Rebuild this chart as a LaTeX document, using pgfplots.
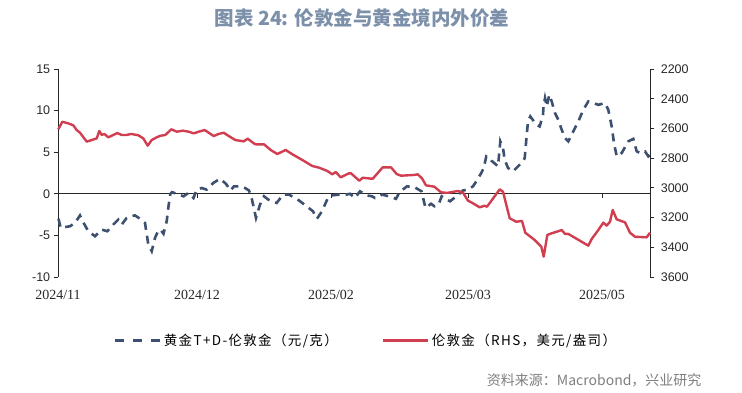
\documentclass[border=0pt]{standalone}
\usepackage{pgfplots}
\pgfplotsset{compat=1.18}
\usepackage{fontspec}
\setmainfont{Liberation Sans}
\newfontfamily\cjk{Noto Sans CJK SC}
\newfontfamily\cjkl[LetterSpace=10]{Noto Sans CJK SC}
\newfontfamily\serifnum{Liberation Serif}
\definecolor{bluec}{RGB}{62,80,112}
\definecolor{redc}{RGB}{208,62,80}
\definecolor{titlec}{RGB}{124,144,170}
\definecolor{srcc}{RGB}{127,127,127}
\definecolor{axc}{RGB}{40,40,40}
\begin{document}
\begin{tikzpicture}
\path (0pt,0pt) rectangle (742pt,392pt);
\node[font=\cjk\bfseries\fontsize{19.5}{20}\selectfont, text=titlec] at (362pt,374pt) {图表 24: 伦敦金与黄金境内外价差};
\node[anchor=east, font=\cjk\fontsize{14}{14}\selectfont, text=srcc] at (705pt,12pt) {资料来源：Macrobond，兴业研究};
\begin{axis}[
  at={(58pt,115pt)}, anchor=south west,
  width=592pt, height=208pt, scale only axis,
  xmin=58, xmax=650, ymin=-10, ymax=15,
  ytick={-10,-5,0,5,10,15},
  axis y line*=left, axis x line*=bottom,
  x axis line style={draw=none},
  y axis line style={draw=axc, line width=0.8pt},
  xtick={58,197,331,468,602},
  xticklabels={2024/11,2024/12,2025/02,2025/03,2025/05},
  xticklabel style={font=\serifnum\fontsize{14}{14}\selectfont, text=axc, yshift=-5pt},
  yticklabel style={font=\fontsize{12.5}{12.5}\selectfont, text=axc},
  /pgf/number format/assume math mode=true,
  major x tick style={draw=none},
  major y tick style={draw=axc, line width=0.8pt},
  tick align=outside,
  clip=false,
  legend style={at={(0.089,-0.303)}, anchor=west, draw=none, fill=none,
    legend columns=2, font=\cjkl\fontsize{13.5}{13.5}\selectfont,
    /tikz/every even column/.append style={column sep=42pt}},
  legend image code/.code={\draw[#1] (0pt,0pt) -- (45pt,0pt);},
]
\draw[axc, line width=0.8pt] (axis cs:58,0) -- (axis cs:650,0);
\draw[axc, line width=0.8pt] (axis cs:197,0) -- ++(0pt,-4pt);
\draw[axc, line width=0.8pt] (axis cs:331,0) -- ++(0pt,-4pt);
\draw[axc, line width=0.8pt] (axis cs:468,0) -- ++(0pt,-4pt);
\draw[axc, line width=0.8pt] (axis cs:602,0) -- ++(0pt,-4pt);
\addplot[bluec, line width=2.6pt, dash pattern=on 8pt off 6pt, forget plot] coordinates {
(58.5,-3.0) (60.7,-4.1) (65,-4.0) (70,-3.9) (75,-3.5) (80,-2.6) (82.7,-3.3)
(88.3,-4.5) (95,-5.1) (101.7,-4.3) (107.3,-4.5) (113.3,-3.7) (118.3,-3.1)
(121.7,-3.7) (126.7,-2.9) (130,-2.7) (135,-2.6) (140,-3.0) (145,-3.5)
(148.3,-6.1) (151.7,-6.9) (155,-5.3) (158,-4.5) (160.3,-4.3) (163.5,-4.8)
(166.7,-3.3) (168.5,-1.5) (170.3,0.0) (172,0.2) (177,0.0) (183.5,-0.3)
(188.3,0.1) (193.5,-0.5) (196.7,0.5) (201.7,0.7) (206.7,0.5) (213.2,1.3)
(220,1.8) (226,1.2) (230.5,0.4) (234,0.9) (240,0.9) (245,0.7) (249,0.4)
(252,-0.7) (256,-2.9) (260,-1.3) (264,-0.3) (268.3,-0.7) (276.7,-1.1)
(283,-0.1) (289,-0.1) (299,-0.8) (305.5,-1.4) (313,-2.1) (317,-3.0)
(322,-2.1) (327.5,-0.6) (331,-0.2) (339,-0.1) (346,-0.1) (350,0.0)
(355,-0.5) (360,0.3) (367,-0.2) (372,-0.3) (375,-0.5) (382,-0.1)
(389,-0.3) (396,-0.6) (399.5,0.2) (407,0.9) (414.5,0.8) (421.5,0.3)
(425.5,-1.7) (431,-1.2) (434.5,-1.5) (438.5,-1.3) (441.7,-0.3) (446.7,-0.7)
(450,-0.9) (456.3,-0.3) (463,0.4) (468,0.5) (473,0.9) (476.3,1.5)
(481.3,2.5) (483.7,3.1) (486.3,4.5) (489.7,4.3) (491.3,4.0) (498,3.3)
(500.3,6.3) (503,5.5) (504.7,4.1) (508,3.1) (513,2.7) (518,3.3) (523,3.9)
(524.7,4.3) (526.3,6.5) (528,8.7) (530.3,9.3) (536.3,8.3) (539.7,8.1)
(543,9.5) (543.5,10.5) (545,11.5) (546.7,10.5) (549.3,11.9) (551.7,11.1)
(555,9.7) (558.3,8.9) (561.7,7.7) (565,6.7) (568.3,6.3) (573.3,7.5)
(578.3,8.7) (583.3,10.1) (588.3,11.1) (593.3,10.9) (598.3,10.7) (605,10.9)
(608.3,10.1) (611.7,8.1) (614,6.1) (616.7,4.5) (621.7,4.9) (628.3,6.3)
(633.3,6.6) (636.7,5.1) (640,4.9) (645,5.1) (648.3,4.5) (650,4.7)
};
\addlegendimage{bluec, line width=3pt, dash pattern=on 9pt off 9pt}
\addlegendentry{黄金T+D-伦敦金（元/克）}
\addlegendimage{redc, line width=3pt}
\addlegendentry{伦敦金（RHS，美元/盎司）}
\end{axis}
\begin{axis}[
  at={(58pt,115pt)}, anchor=south west,
  width=592pt, height=208pt, scale only axis,
  xmin=58, xmax=650, ymin=2200, ymax=3600, y dir=reverse,
  axis y line*=right, axis x line=none,
  ytick={2200,2400,...,3600},
  y axis line style={draw=axc, line width=0.8pt},
  major y tick style={draw=axc, line width=0.8pt},
  yticklabel style={font=\fontsize{12.5}{12.5}\selectfont, text=axc, xshift=3pt},
  /pgf/number format/assume math mode=true,
  /pgf/number format/1000 sep={},
  tick align=outside,
  clip=false,
]
\addplot[redc, line width=2.4pt, line join=round] coordinates {
(58.3,2606) (62.3,2555) (68.3,2566) (73.3,2579) (76.7,2611) (80,2629)
(86.7,2689) (91.7,2678) (96.7,2667) (99.3,2617) (101.7,2644) (104.3,2637)
(108.3,2660) (113.3,2644) (117.3,2631) (121.7,2644) (126.7,2644) (131,2637)
(138.3,2646) (143.3,2667) (147.7,2716) (151.7,2678) (156.7,2660) (160,2650)
(165.3,2644) (171.3,2606) (177,2622) (182.7,2615) (188.7,2622) (193.7,2633)
(198.7,2622) (204.7,2611) (208.7,2629) (213.7,2651) (218.7,2637) (223.7,2629)
(228.7,2651) (235.3,2678) (243.7,2687) (247.7,2669) (253.7,2700) (255.7,2707)
(264,2707) (270.7,2745) (277.3,2772) (285.7,2745) (292.3,2774) (304,2819)
(312.3,2853) (319,2864) (327.3,2886) (332.3,2909) (335.7,2893) (340.7,2929)
(349,2902) (351,2902) (359.3,2952) (362.7,2932) (372.7,2939) (382.7,2862)
(391,2862) (396.7,2907) (401,2918) (414.3,2913) (417.7,2909) (422,2936)
(426,2983) (434.3,2992) (441,3030) (446,3033) (448,3033) (458,3021)
(463,3033) (468,3086) (473,3104) (479.7,3131) (484.7,3120) (487,3127)
(499.7,3010) (503,3026) (509.7,3205) (516.3,3228) (522,3223) (525.3,3302)
(534.7,3351) (541.3,3396) (543.7,3463) (547.3,3317) (551.7,3306) (556.7,3295)
(561.7,3284) (565,3310) (568.3,3310) (588.3,3389) (591.7,3344) (598.3,3284)
(603.3,3234) (606.7,3254) (610,3228) (612.7,3149) (616.7,3212) (625,3232)
(630,3302) (635,3329) (646.7,3333) (650,3302)
};
\end{axis}
\end{tikzpicture}
\end{document}
